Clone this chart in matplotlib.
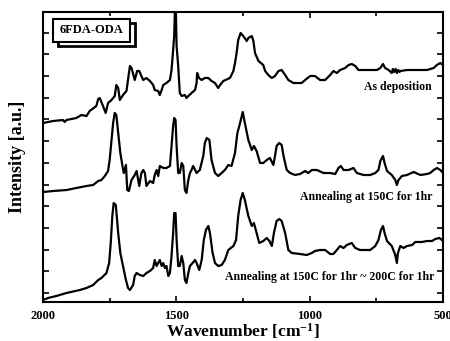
import numpy as np
import matplotlib
matplotlib.use("Agg")
import matplotlib.pyplot as plt
from matplotlib.patches import Rectangle
from matplotlib.ticker import MultipleLocator

plt.rcParams['font.family'] = 'Liberation Serif'
plt.rcParams['font.weight'] = 'bold'
plt.rcParams['axes.labelweight'] = 'bold'
plt.rcParams['mathtext.fontset'] = 'custom'
plt.rcParams['mathtext.rm'] = 'Liberation Serif:bold'
plt.rcParams['mathtext.default'] = 'rm'

# As deposition (wavenumber, intensity a.u.)
w_dep = [2000, 1962, 1925, 1919, 1912, 1875, 1856, 1837, 1825, 1800, 1793, 1787, 1775, 1765,
         1756, 1743, 1731, 1725, 1718, 1712, 1700, 1687, 1674, 1668, 1656, 1647, 1639, 1631,
         1624, 1612, 1599, 1587, 1581, 1568, 1562, 1555, 1549, 1537, 1524, 1518, 1512, 1508,
         1505, 1502, 1499, 1493, 1487, 1480, 1468, 1462, 1455, 1443, 1430, 1424, 1422, 1415,
         1405, 1393, 1380, 1368, 1355, 1343, 1336, 1324, 1299, 1286, 1280, 1274, 1268, 1259,
         1249, 1236, 1230, 1217, 1211, 1205, 1192, 1174, 1167, 1155, 1142, 1130, 1117, 1105,
         1092, 1080, 1061, 1030, 1017, 998, 980, 961, 942, 923, 911, 898, 886, 867, 854, 842,
         829, 817, 792, 748, 735, 725, 717, 704, 692, 688, 683, 678, 673, 668, 663, 660, 635,
         585, 560, 535, 523, 510, 500]
i_dep = [179, 181, 182, 180, 182, 184, 187, 186, 191, 196, 203, 204, 196, 189,
         199, 202, 206, 217, 214, 202, 207, 211, 236, 234, 222, 231, 231, 226,
         222, 224, 221, 217, 212, 211, 207, 212, 217, 219, 222, 232, 252, 266,
         295, 295, 256, 236, 209, 206, 207, 204, 206, 209, 212, 219, 229, 224,
         222, 224, 224, 221, 219, 214, 217, 221, 224, 231, 239, 249, 262, 269,
         266, 261, 264, 266, 261, 249, 241, 237, 231, 227, 224, 226, 231, 232,
         227, 222, 219, 219, 222, 226, 226, 222, 222, 227, 231, 229, 232, 234, 237, 238,
         236, 232, 232, 232, 234, 238, 234, 232, 229, 233, 230, 233, 229, 232, 230, 231, 232,
         232, 232, 234, 237, 239, 237]

# Annealing at 150C for 1hr
w_150 = [2000, 1962, 1912, 1875, 1837, 1812, 1793, 1781, 1768, 1756, 1750, 1743, 1737, 1731,
         1725, 1718, 1710, 1702, 1697, 1689, 1684, 1678, 1668, 1656, 1649, 1639, 1631, 1624,
         1618, 1612, 1599, 1587, 1581, 1574, 1568, 1562, 1549, 1537, 1524, 1518, 1512, 1508,
         1503, 1499, 1493, 1487, 1480, 1474, 1468, 1462, 1455, 1449, 1443, 1437, 1424, 1412,
         1399, 1393, 1386, 1376, 1368, 1355, 1343, 1330, 1318, 1305, 1293, 1280, 1271, 1261,
         1251, 1243, 1230, 1217, 1209, 1199, 1186, 1174, 1161, 1149, 1136, 1130, 1124, 1114,
         1105, 1098, 1086, 1073, 1055, 1036, 1017, 1005, 992, 973, 948, 923, 904, 892, 883,
         873, 854, 836, 823, 798, 773, 754, 742, 735, 725, 719, 710, 692, 679, 673, 667,
         654, 635, 610, 585, 560, 548, 535, 523, 510, 500]
i_150 = [110, 111, 112, 114, 116, 117, 121, 122, 126, 131, 142, 162, 179, 189,
         187, 169, 149, 136, 129, 137, 112, 111, 122, 127, 131, 116, 129, 132,
         129, 116, 121, 119, 127, 132, 126, 136, 134, 134, 136, 156, 176, 184,
         182, 156, 129, 129, 139, 136, 112, 109, 122, 129, 132, 136, 129, 132,
         146, 159, 164, 162, 142, 129, 126, 129, 132, 137, 136, 149, 169, 179,
         190, 179, 162, 152, 156, 151, 139, 139, 142, 144, 137, 146, 156, 159,
         157, 146, 132, 129, 127, 128, 131, 129, 132, 132, 129, 129, 128, 134, 136,
         132, 132, 134, 129, 127, 127, 129, 132, 141, 146, 139, 131, 127, 122, 117, 122,
         126, 127, 130, 127, 128, 129, 132, 134, 132, 129]

# Annealing at 150C for 1hr ~ 200C for 1hr
w_200 = [2000, 1981, 1950, 1912, 1862, 1837, 1812, 1793, 1781, 1762, 1752, 1746, 1740, 1735,
         1727, 1718, 1710, 1700, 1689, 1681, 1674, 1662, 1656, 1649, 1637, 1624, 1612, 1599,
         1587, 1581, 1574, 1568, 1562, 1555, 1549, 1543, 1537, 1530, 1524, 1518, 1512, 1508,
         1503, 1499, 1493, 1487, 1480, 1474, 1468, 1462, 1455, 1449, 1439, 1430, 1424, 1414,
         1405, 1397, 1389, 1380, 1374, 1364, 1355, 1343, 1330, 1318, 1305, 1286, 1276, 1268,
         1259, 1251, 1243, 1230, 1217, 1209, 1199, 1189, 1174, 1161, 1151, 1142, 1134, 1124,
         1114, 1105, 1092, 1080, 1067, 1036, 1011, 992, 980, 961, 942, 923, 911, 898, 886,
         873, 861, 842, 829, 811, 773, 754, 742, 733, 725, 719, 710, 692, 679, 673, 669,
         660, 648, 635, 616, 604, 579, 560, 541, 529, 513, 500]
i_200 = [2, 4, 6, 9, 12, 14, 17, 22, 24, 29, 39, 59, 86, 99,
         97, 69, 49, 36, 22, 14, 12, 17, 26, 29, 27, 26, 29, 31,
         34, 42, 36, 39, 42, 36, 39, 34, 36, 26, 29, 46, 69, 89,
         89, 62, 36, 36, 46, 39, 22, 19, 29, 36, 39, 42, 39, 32,
         42, 62, 72, 76, 69, 49, 39, 36, 37, 42, 52, 56, 62, 86,
         102, 109, 102, 86, 76, 79, 69, 59, 61, 64, 61, 56, 69, 81,
         83, 81, 69, 52, 49, 48, 47, 49, 51, 52, 52, 48, 48, 52, 56,
         54, 57, 59, 54, 52, 52, 56, 62, 72, 76, 69, 61, 56, 47, 39, 49,
         56, 54, 56, 57, 60, 60, 61, 61, 63, 64, 61]

labels = ["As deposition", "Annealing at 150C for 1hr",
          "Annealing at 150C for 1hr ~ 200C for 1hr"]

fig = plt.figure(figsize=(4.5, 3.41), dpi=100)
ax = fig.add_axes([43/450, 1 - 302/341, 400/450, 290/341])

for w, i in [(w_dep, i_dep), (w_150, i_150), (w_200, i_200)]:
    ax.plot(w, i, color="black", lw=1.6)

ax.set_xlim(2000, 500)
ax.set_ylim(0, 290)
ax.xaxis.set_major_locator(MultipleLocator(500))
ax.xaxis.set_minor_locator(MultipleLocator(250))
ax.set_yticks(np.arange(9, 290, 21.7))
ax.set_yticklabels([])
ax.tick_params(which="both", direction="in", top=True, right=True, width=1.2)
ax.tick_params(which="major", length=4, labelsize=9, pad=6)
ax.tick_params(which="minor", length=3)
for t in ax.get_xticklabels():
    t.set_fontweight("bold")
for sp in ax.spines.values():
    sp.set_linewidth(1.5)

ax.set_xlabel("Wavenumber [cm$^{-1}$]", fontsize=12.5, fontweight="bold", va="center")
ax.xaxis.set_label_coords(0.5, -0.1)
ax.set_ylabel("Intensity [a.u.]", fontsize=13, fontweight="bold", va="center")
ax.yaxis.set_label_coords(-0.0625, 0.5)

ax.text(0.9725, 0.741, labels[0], transform=ax.transAxes, ha="right", va="center",
        fontsize=8.5, fontweight="bold")
ax.text(0.9725, 0.362, labels[1], transform=ax.transAxes, ha="right", va="center",
        fontsize=8.5, fontweight="bold")
ax.text(0.978, 0.086, labels[2], transform=ax.transAxes, ha="right", va="center",
        fontsize=8.5, fontweight="bold")

# sample name box with shadow
ax.add_patch(Rectangle((0.0375, 0.883), 0.1925, 0.079, transform=ax.transAxes,
                       facecolor="white", edgecolor="black", lw=2, zorder=4))
ax.add_patch(Rectangle((0.025, 0.897), 0.1925, 0.079, transform=ax.transAxes,
                       facecolor="white", edgecolor="black", lw=1.5, zorder=5))
ax.text(0.025 + 0.1925/2, 0.897 + 0.079/2, "6FDA-ODA", transform=ax.transAxes,
        ha="center", va="center", fontsize=9, fontweight="bold", zorder=6)

plt.savefig("out.png", dpi=100)
